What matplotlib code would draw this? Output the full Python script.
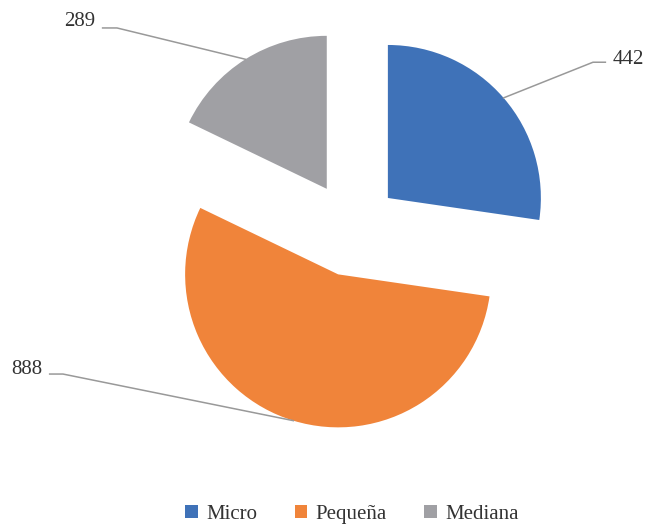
import numpy as np
import matplotlib.pyplot as plt
from matplotlib.patches import Patch

categories = ["Micro", "Pequeña", "Mediana"]
values = [442, 888, 289]
colors = ["#3F72B8", "#F0843A", "#A0A0A4"]

# label positions (data coords of the text anchor) and end of the short horizontal tick
label_pos = [(1.706, 1.105), (-2.026, -0.92), (-1.68, 1.353)]
label_ha = ["left", "right", "right"]
tick_end = [(1.575, 1.09), (-1.889, -0.948), (-1.536, 1.314)]


def main():
    plt.rcParams['font.family'] = ['Liberation Serif', 'DejaVu Serif']
    fig = plt.figure(figsize=(6.46, 5.27), dpi=100)
    ax = fig.add_axes([0, 0, 1, 1])
    wedges, _ = ax.pie(values, colors=colors, startangle=90, counterclock=False,
                       explode=[0.31, 0.31, 0.31], radius=1.0,
                       wedgeprops=dict(linewidth=0))
    ax.set_xlim(-352 / 153, 294 / 153)
    ax.set_ylim(-298 / 153, 229 / 153)
    ax.set_aspect('equal')
    ax.axis('off')

    for i, w in enumerate(wedges):
        mid = np.deg2rad((w.theta1 + w.theta2) / 2)
        cx, cy = w.center
        px = cx + w.r * np.cos(mid)
        py = cy + w.r * np.sin(mid)
        tx, ty = tick_end[i]
        lx, ly = label_pos[i]
        hx = lx - 0.05 if label_ha[i] == "left" else lx + 0.05
        ax.plot([px, tx, hx], [py, ty, ty], color="#999999", lw=1.1)
        ax.text(lx, ly, str(values[i]), ha=label_ha[i], va="center",
                fontsize=15, color="#333333")

    handles = [Patch(facecolor=c, edgecolor='none') for c in colors]
    fig.legend(handles, categories, loc="center", bbox_to_anchor=(0.545, 0.024),
               ncol=3, frameon=False, fontsize=15, handlelength=0.6,
               handleheight=0.6, handletextpad=0.4, columnspacing=1.8,
               labelcolor="#333333", borderpad=0.2)

    fig.savefig("out.png", dpi=100)


if __name__ == "__main__":
    main()
